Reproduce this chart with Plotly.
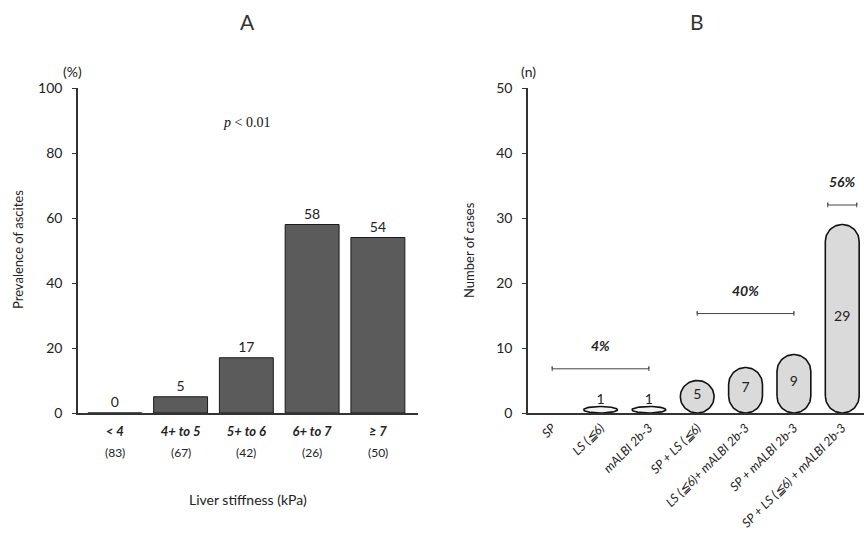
import numpy as np
import plotly.graph_objects as go

# ---------------- data ----------------
ls_categories = ["&lt; 4", "4+ to 5", "5+ to 6", "6+ to 7", "≥ 7"]
ls_counts = ["(83)", "(67)", "(42)", "(26)", "(50)"]
ascites_prev = [0, 5, 17, 58, 54]

combo_labels = ["SP", "LS (≦6)", "mALBI 2b-3", "SP + LS (≦6)",
                "LS (≦6)+ mALBI 2b-3", "SP + mALBI 2b-3",
                "SP + LS (≦6) + mALBI 2b-3"]
combo_cases = [0, 1, 1, 5, 7, 9, 29]

bracket_text = ["4%", "40%", "56%"]
bracket_from = [0, 3, 5.7]
bracket_to = [2, 5, 6.3]
bracket_level = [6.8, 15.3, 32]

W, H = 864, 536
FONT = "Lato"
def px(x):
    return x / W
def py(y):
    return 1 - y / H

fig = go.Figure()

# ---------------- panel A ----------------
fig.add_trace(go.Bar(
    x=list(range(len(ascites_prev))), y=ascites_prev,
    marker=dict(color="#5b5b5b", line=dict(color="#1a1a1a", width=1)),
    width=0.82, text=[str(v) for v in ascites_prev], textposition="outside",
    textfont=dict(size=14, color="#222", family=FONT), cliponaxis=False,
    xaxis="x", yaxis="y", showlegend=False, hoverinfo="skip"))

# ---------------- panel B (pill bars) ----------------
half_w = 0.35
ry_max = 2.6
for i, v in enumerate(combo_cases):
    if v <= 0:
        continue
    ry = min(v / 2.0, ry_max)
    t1 = np.linspace(np.pi, 2 * np.pi, 40)
    t2 = np.linspace(0, np.pi, 40)
    xs = np.concatenate([i + half_w * np.cos(t1), i + half_w * np.cos(t2), [i - half_w]])
    ys = np.concatenate([ry + ry * np.sin(t1), (v - ry) + ry * np.sin(t2), [ry]])
    fig.add_trace(go.Scatter(
        x=xs, y=ys, mode="lines", fill="toself",
        fillcolor="#dadada" if v > 1 else "#f4f4f4",
        line=dict(color="#111", width=1.6), xaxis="x2", yaxis="y2",
        showlegend=False, hoverinfo="skip"))

lab_x = [i for i, v in enumerate(combo_cases) if v > 0]
lab_y = [max(v / 2.0 + 0.2, 2.0) for v in combo_cases if v > 0]
fig.add_trace(go.Scatter(
    x=lab_x, y=lab_y, mode="text",
    text=[str(v) for v in combo_cases if v > 0],
    textfont=dict(size=14, color="#222", family=FONT),
    xaxis="x2", yaxis="y2", showlegend=False, hoverinfo="skip"))

# brackets
for a, b, lv, tx in zip(bracket_from, bracket_to, bracket_level, bracket_text):
    fig.add_trace(go.Scatter(
        x=[a, a, a, b, b, b], y=[lv - 0.35, lv + 0.35, lv, lv, lv + 0.35, lv - 0.35],
        mode="lines", line=dict(color="#444", width=1),
        xaxis="x2", yaxis="y2", showlegend=False, hoverinfo="skip"))
    fig.add_annotation(x=(a + b) / 2, y=lv + 3.6, xref="x2", yref="y2",
                       text="<b><i>" + tx + "</i></b>", showarrow=False,
                       xanchor="center", yanchor="middle",
                       font=dict(size=14, color="#222", family=FONT))

# ---------------- annotations ----------------
ann = []
ann.append(dict(x=px(247), y=py(22), text="A", font=dict(size=21, color="#333", family=FONT)))
ann.append(dict(x=px(697), y=py(22), text="B", font=dict(size=21, color="#333", family=FONT)))
ann.append(dict(x=px(72), y=py(71), text="(%)", font=dict(size=14, color="#222", family=FONT)))
ann.append(dict(x=px(528), y=py(71), text="(n)", font=dict(size=14, color="#222", family=FONT)))
ann.append(dict(x=px(18), y=py(250), text="Prevalence of ascites", textangle=-90,
                font=dict(size=13, color="#222", family=FONT)))
ann.append(dict(x=px(469), y=py(250), text="Number of cases", textangle=-90,
                font=dict(size=13, color="#222", family=FONT)))
ann.append(dict(x=px(248), y=py(499), text="Liver stiffness (kPa)",
                font=dict(size=14, color="#222", family=FONT)))
ann.append(dict(x=px(246), y=py(122), text="<i>p</i> &lt; 0.01",
                font=dict(size=14, color="#111", family="Liberation Serif")))
for a in ann:
    a.update(xref="paper", yref="paper", showarrow=False, xanchor="center", yanchor="middle")
    fig.add_annotation(**a)
for i, c in enumerate(ls_counts):
    fig.add_annotation(x=i, y=py(452), xref="x", yref="paper", text=c, showarrow=False,
                       xanchor="center", yanchor="middle",
                       font=dict(size=12, color="#222", family=FONT))

axis_common = dict(showgrid=False, zeroline=False, showline=True, automargin=False,
                   linecolor="#333", linewidth=1.5)
tickfont = dict(size=14, color="#222", family=FONT)

fig.update_layout(
    template="none",
    width=W, height=H, margin=dict(l=0, r=0, t=0, b=0, autoexpand=False),
    plot_bgcolor="white", paper_bgcolor="white",
    xaxis=dict(domain=[px(78), px(418)], range=[-0.56, 4.61], anchor="y",
               tickmode="array", tickvals=list(range(len(ls_categories))),
               ticktext=["<b><i>" + c + "</i></b>" for c in ls_categories],
               ticks="", ticklabelstandoff=6,
               tickfont=dict(size=13, color="#222", family=FONT), **axis_common),
    yaxis=dict(domain=[py(413), py(88)], range=[0, 100], anchor="x",
               tickvals=[0, 20, 40, 60, 80, 100], ticks="outside", ticklen=4,
               ticklabelstandoff=7,
               tickcolor="#333", tickfont=tickfont, **axis_common),
    xaxis2=dict(domain=[px(528), 1.0], range=[-0.5, 6.45], anchor="y2",
                tickmode="array", tickvals=list(range(len(combo_labels))),
                ticktext=["<i>" + c + "</i>" for c in combo_labels], tickangle=-45,
                ticks="", ticklabelstandoff=1,
                tickfont=dict(size=12.5, color="#222", family=FONT), **axis_common),
    yaxis2=dict(domain=[py(413), py(88)], range=[0, 50], anchor="x2",
                tickvals=[0, 10, 20, 30, 40, 50], ticks="outside", ticklen=4,
                ticklabelstandoff=7,
                tickcolor="#333", tickfont=tickfont, **axis_common),
)

fig.write_html("out.html", config={"displayModeBar": False},
               post_script="document.body.style.margin='0';document.body.style.overflow='hidden';")
